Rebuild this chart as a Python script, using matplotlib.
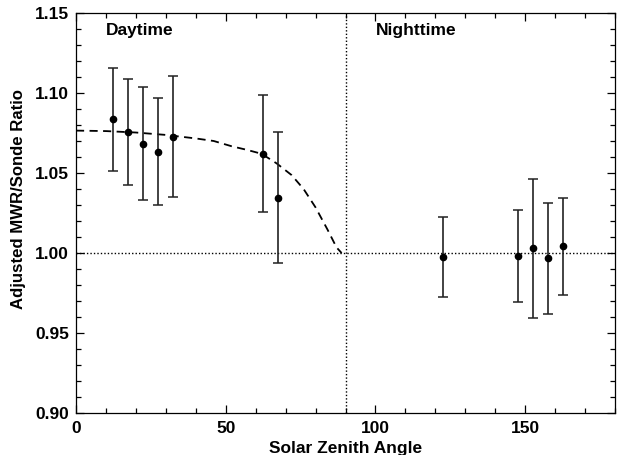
import matplotlib
matplotlib.use('Agg')
import matplotlib.pyplot as plt
from matplotlib.ticker import MultipleLocator

plt.rcParams['font.family'] = ['Liberation Sans', 'DejaVu Sans']
plt.rcParams['font.weight'] = 'bold'

# binned ratios (solar zenith angle bin centres)
sza = [12.5, 17.5, 22.5, 27.5, 32.5, 62.5, 67.5, 122.5, 147.5, 152.5, 157.5, 162.5]
ratio = [1.0836, 1.0758, 1.0683, 1.0633, 1.0727, 1.0619, 1.0344,
         0.9975, 0.9981, 1.0029, 0.9967, 1.0042]
err_top = [1.1158, 1.1088, 1.1040, 1.0967, 1.1106, 1.0986, 1.0754,
           1.0225, 1.0269, 1.0463, 1.0310, 1.0346]
err_bot = [1.0514, 1.0427, 1.0329, 1.0298, 1.0352, 1.0254, 0.9935,
           0.9725, 0.9694, 0.9596, 0.9621, 0.9736]

# daytime fit curve
fit_x = [0, 10, 20, 30, 40, 46, 52, 57, 62, 67, 72, 76, 80, 84, 87, 88.7]
fit_y = [1.0765, 1.0762, 1.0753, 1.0738, 1.0716, 1.0700, 1.0667, 1.0645,
         1.0620, 1.0560, 1.0487, 1.0400, 1.0285, 1.0146, 1.0035, 1.0000]

lower = [r - b for r, b in zip(ratio, err_bot)]
upper = [t - r for r, t in zip(ratio, err_top)]

fig = plt.figure(figsize=(6.17, 4.55), dpi=100)
ax = fig.add_axes([76 / 617, 1 - 413 / 455, 539 / 617, 400 / 455])

ax.axhline(1.0, color='black', linestyle=(0, (1, 1.5)), linewidth=1.0)
ax.axvline(90, color='black', linestyle=(0, (1, 1.5)), linewidth=1.0)

ax.plot(fit_x, fit_y, color='black', linestyle=(0, (4.5, 3)), linewidth=1.3)

ax.errorbar(sza, ratio, yerr=[lower, upper], fmt='o', color='black',
            ecolor='#222222', markersize=4.5, elinewidth=1.2, capsize=3.5,
            capthick=1.1)

ax.set_xlim(0, 180)
ax.set_ylim(0.90, 1.15)
ax.xaxis.set_major_locator(MultipleLocator(50))
ax.xaxis.set_minor_locator(MultipleLocator(10))
ax.yaxis.set_major_locator(MultipleLocator(0.05))
ax.yaxis.set_minor_locator(MultipleLocator(0.01))
ax.yaxis.set_major_formatter(plt.FormatStrFormatter('%.2f'))
ax.tick_params(which='both', direction='in', top=True, right=True,
               labelsize=12.5, width=0.9)
ax.tick_params(which='major', length=6, pad=6)
ax.tick_params(which='minor', length=3.5)
ax.tick_params(axis='y', which='major', pad=5)
for s in ax.spines.values():
    s.set_linewidth(0.9)

ax.text(10, 1.139, 'Daytime', fontsize=12.5, fontweight='bold', va='center')
ax.text(100.3, 1.139, 'Nighttime', fontsize=12.5, fontweight='bold', va='center')

ax.set_xlabel('Solar Zenith Angle', fontsize=12.5, fontweight='bold')
ax.set_ylabel('Adjusted MWR/Sonde Ratio', fontsize=12.1, fontweight='bold')
ax.xaxis.set_label_coords(0.5, -0.069)
ax.yaxis.set_label_coords(-0.093, 0.535)

fig.savefig('out.png', dpi=100)
